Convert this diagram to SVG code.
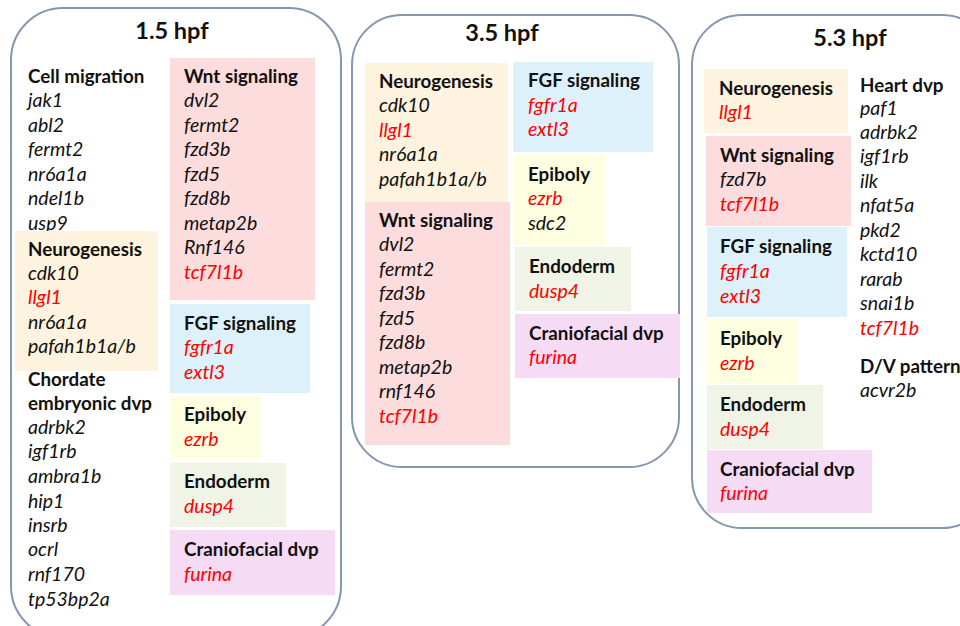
<svg xmlns="http://www.w3.org/2000/svg" width="960" height="626" viewBox="0 0 960 626">
<style>
text{font-family:Lato,"Open Sans","Liberation Sans",sans-serif;fill:#111}
.t{font-size:23.5px;font-weight:bold;text-anchor:middle}
.h{font-size:18.8px;font-weight:bold}
.g{font-size:19.5px;font-style:italic}
.r{fill:#ff0000}
.panel{fill:#fff;stroke:#8497b0;stroke-width:2}
.wnt{fill:#fcdcdd}.neu{fill:#fdf3de}.fgf{fill:#ddf1fb}.epi{fill:#fefee0}.end{fill:#eff4e6}.cra{fill:#f5dbf4}
</style>
<g id="panel-1-5hpf">
<rect class="panel" x="11" y="8" width="330" height="630" rx="52"/>
<text class="t" x="172" y="39">1.5 hpf</text>
</g>
<g id="panel-3-5hpf">
<rect class="panel" x="352" y="15" width="327" height="452" rx="50"/>
<text class="t" x="502" y="41">3.5 hpf</text>
</g>
<g id="panel-5-3hpf">
<rect class="panel" x="692" y="15" width="300" height="513" rx="50"/>
<text class="t" x="850" y="46">5.3 hpf</text>
</g>

<g id="p1-cell-migration">
<text class="h" x="28" y="83">Cell migration</text>
<text class="g" x="28" y="107">jak1</text>
<text class="g" x="28" y="132">abl2</text>
<text class="g" x="28" y="156">fermt2</text>
<text class="g" x="28" y="181">nr6a1a</text>
<text class="g" x="28" y="205">ndel1b</text>
<text class="g" x="28" y="230">usp9</text>
</g>
<g id="p1-neurogenesis">
<rect class="neu" x="15" y="231" width="143" height="140"/>
<text class="h" x="28" y="256">Neurogenesis</text>
<text class="g" x="28" y="280">cdk10</text>
<text class="g r" x="28" y="304">llgl1</text>
<text class="g" x="28" y="329">nr6a1a</text>
<text class="g" x="28" y="353">pafah1b1a/b</text>
</g>
<g id="p1-chordate">
<text class="h" x="28" y="386">Chordate</text>
<text class="h" x="28" y="410">embryonic dvp</text>
<text class="g" x="28" y="434">adrbk2</text>
<text class="g" x="28" y="458">igf1rb</text>
<text class="g" x="28" y="483">ambra1b</text>
<text class="g" x="28" y="508">hip1</text>
<text class="g" x="28" y="532">insrb</text>
<text class="g" x="28" y="556">ocrl</text>
<text class="g" x="28" y="581">rnf170</text>
<text class="g" x="28" y="606">tp53bp2a</text>
</g>
<g id="p1-wnt">
<rect class="wnt" x="170" y="58" width="145" height="242"/>
<text class="h" x="184" y="83">Wnt signaling</text>
<text class="g" x="184" y="107">dvl2</text>
<text class="g" x="184" y="132">fermt2</text>
<text class="g" x="184" y="156">fzd3b</text>
<text class="g" x="184" y="181">fzd5</text>
<text class="g" x="184" y="205">fzd8b</text>
<text class="g" x="184" y="230">metap2b</text>
<text class="g" x="184" y="254">Rnf146</text>
<text class="g r" x="184" y="279">tcf7l1b</text>
</g>
<g id="p1-fgf">
<rect class="fgf" x="170" y="304" width="140" height="89"/>
<text class="h" x="184" y="330">FGF signaling</text>
<text class="g r" x="184" y="354">fgfr1a</text>
<text class="g r" x="184" y="379">extl3</text>
</g>
<g id="p1-epiboly">
<rect class="epi" x="170" y="396" width="91" height="63"/>
<text class="h" x="184" y="421">Epiboly</text>
<text class="g r" x="184" y="446">ezrb</text>
</g>
<g id="p1-endoderm">
<rect class="end" x="170" y="463" width="116" height="64"/>
<text class="h" x="184" y="488">Endoderm</text>
<text class="g r" x="184" y="513">dusp4</text>
</g>
<g id="p1-craniofacial">
<rect class="cra" x="170" y="530" width="165" height="65"/>
<text class="h" x="184" y="556">Craniofacial dvp</text>
<text class="g r" x="184" y="581">furina</text>
</g>

<g id="p2-neurogenesis">
<rect class="neu" x="365" y="63" width="143" height="139"/>
<text class="h" x="379" y="88">Neurogenesis</text>
<text class="g" x="379" y="112">cdk10</text>
<text class="g r" x="379" y="137">llgl1</text>
<text class="g" x="379" y="161">nr6a1a</text>
<text class="g" x="379" y="186">pafah1b1a/b</text>
</g>
<g id="p2-wnt">
<rect class="wnt" x="365" y="202" width="145" height="243"/>
<text class="h" x="379" y="227">Wnt signaling</text>
<text class="g" x="379" y="251">dvl2</text>
<text class="g" x="379" y="276">fermt2</text>
<text class="g" x="379" y="300">fzd3b</text>
<text class="g" x="379" y="325">fzd5</text>
<text class="g" x="379" y="349">fzd8b</text>
<text class="g" x="379" y="374">metap2b</text>
<text class="g" x="379" y="398">rnf146</text>
<text class="g r" x="379" y="423">tcf7l1b</text>
</g>
<g id="p2-fgf">
<rect class="fgf" x="513" y="62" width="140" height="90"/>
<text class="h" x="528" y="87">FGF signaling</text>
<text class="g r" x="528" y="112">fgfr1a</text>
<text class="g r" x="528" y="136">extl3</text>
</g>
<g id="p2-epiboly">
<rect class="epi" x="514" y="155" width="91" height="90"/>
<text class="h" x="528" y="181">Epiboly</text>
<text class="g r" x="528" y="205">ezrb</text>
<text class="g" x="528" y="230">sdc2</text>
</g>
<g id="p2-endoderm">
<rect class="end" x="515" y="247" width="116" height="64"/>
<text class="h" x="529" y="273">Endoderm</text>
<text class="g r" x="529" y="298">dusp4</text>
</g>
<g id="p2-craniofacial">
<rect class="cra" x="515" y="314" width="165" height="64"/>
<text class="h" x="529" y="340">Craniofacial dvp</text>
<text class="g r" x="529" y="364">furina</text>
</g>

<g id="p3-neurogenesis">
<rect class="neu" x="704" y="69" width="144" height="64"/>
<text class="h" x="719" y="95">Neurogenesis</text>
<text class="g r" x="719" y="119">llgl1</text>
</g>
<g id="p3-wnt">
<rect class="wnt" x="706" y="136" width="145" height="90"/>
<text class="h" x="720" y="162">Wnt signaling</text>
<text class="g" x="720" y="186">fzd7b</text>
<text class="g r" x="720" y="211">tcf7l1b</text>
</g>
<g id="p3-fgf">
<rect class="fgf" x="707" y="227" width="140" height="90"/>
<text class="h" x="720" y="253">FGF signaling</text>
<text class="g r" x="720" y="278">fgfr1a</text>
<text class="g r" x="720" y="303">extl3</text>
</g>
<g id="p3-epiboly">
<rect class="epi" x="707" y="319" width="91" height="64"/>
<text class="h" x="720" y="345">Epiboly</text>
<text class="g r" x="720" y="370">ezrb</text>
</g>
<g id="p3-endoderm">
<rect class="end" x="707" y="385" width="116" height="64"/>
<text class="h" x="720" y="411">Endoderm</text>
<text class="g r" x="720" y="436">dusp4</text>
</g>
<g id="p3-craniofacial">
<rect class="cra" x="707" y="450" width="165" height="63"/>
<text class="h" x="720" y="476">Craniofacial dvp</text>
<text class="g r" x="720" y="500">furina</text>
</g>
<g id="p3-heart">
<text class="h" x="860" y="92">Heart dvp</text>
<text class="g" x="860" y="115">paf1</text>
<text class="g" x="860" y="139">adrbk2</text>
<text class="g" x="860" y="163">igf1rb</text>
<text class="g" x="860" y="188">ilk</text>
<text class="g" x="860" y="212">nfat5a</text>
<text class="g" x="860" y="237">pkd2</text>
<text class="g" x="860" y="261">kctd10</text>
<text class="g" x="860" y="286">rarab</text>
<text class="g" x="860" y="310">snai1b</text>
<text class="g r" x="860" y="335">tcf7l1b</text>
</g>
<g id="p3-dv-pattern">
<text class="h" x="860" y="373">D/V pattern</text>
<text class="g" x="860" y="397">acvr2b</text>
</g>
<g id="connectors"/>
</svg>
